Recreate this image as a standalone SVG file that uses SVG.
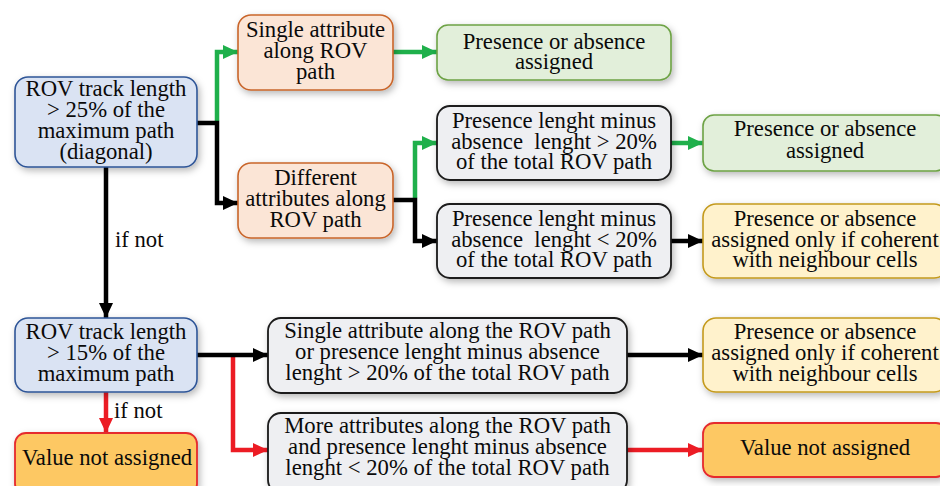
<svg xmlns="http://www.w3.org/2000/svg" width="940" height="486" viewBox="0 0 940 486">
<style>
text{font-family:'Liberation Serif',serif;font-size:22.7px;fill:#0a0a0a;text-anchor:middle}
.lbl{text-anchor:start}
.box{stroke-width:1.6}
.blue{fill:#dae3f3;stroke:#2f5597}
.orange{fill:#fbe5d6;stroke:#c9652a}
.green{fill:#e2efda;stroke:#6da244}
.gray{fill:#eeeff2;stroke:#1a1a1a;stroke-width:1.8}
.yellow{fill:#fff2cc;stroke:#c49a1e}
.gold{fill:#fdc863;stroke:#e52a2e;stroke-width:1.8}
.c{fill:none;stroke-width:4.5;stroke-linejoin:miter;stroke-linecap:butt}
.k{stroke:#000}
.g{stroke:#1fb04b}
.r{stroke:#ec1c24}
</style>
<defs>
<filter id="sh" x="-10%" y="-20%" width="125%" height="150%">
<feDropShadow dx="2" dy="3" stdDeviation="3.5" flood-color="#000" flood-opacity="0.28"/>
</filter>
<marker id="ak" markerUnits="userSpaceOnUse" markerWidth="16" markerHeight="16" refX="15" refY="8" orient="auto"><path d="M0,1 L15,8 L0,15 z" fill="#000"/></marker>
<marker id="ag" markerUnits="userSpaceOnUse" markerWidth="16" markerHeight="16" refX="15" refY="8" orient="auto"><path d="M0,1 L15,8 L0,15 z" fill="#1fb04b"/></marker>
<marker id="ar" markerUnits="userSpaceOnUse" markerWidth="16" markerHeight="16" refX="15" refY="8" orient="auto"><path d="M0,1 L15,8 L0,15 z" fill="#ec1c24"/></marker>
</defs>
<g font-family="Liberation Serif, serif">
<g id="connectors">
<path class="c g" d="M217,121 V52 H238" marker-end="url(#ag)"/>
<path class="c k" d="M197,123 H217 V203 H238" marker-end="url(#ak)"/>
<path class="c g" d="M393,52 H437" marker-end="url(#ag)"/>
<path class="c g" d="M415,198 V143 H437" marker-end="url(#ag)"/>
<path class="c k" d="M393,200 H415 V241 H437" marker-end="url(#ak)"/>
<path class="c g" d="M671,143 H703" marker-end="url(#ag)"/>
<path class="c k" d="M671,241 H703" marker-end="url(#ak)"/>
<path class="c k" d="M106,167 V318" marker-end="url(#ak)"/>
<path class="c r" d="M233,355 V450 H268" marker-end="url(#ar)"/>
<path class="c k" d="M197,355 H268" marker-end="url(#ak)"/>
<path class="c r" d="M106,392 V433" marker-end="url(#ar)"/>
<path class="c k" d="M627,355 H703" marker-end="url(#ak)"/>
<path class="c r" d="M627,450 H703" marker-end="url(#ar)"/>
<text class="lbl" x="115" y="247">if not</text>
<text class="lbl" x="114" y="418">if not</text>
</g>

<g id="n-track25">
<rect class="box blue" x="15" y="77" width="182" height="90" rx="13" filter="url(#sh)"/>
<text x="106" y="96">ROV track length</text>
<text x="106" y="117">&gt; 25% of the</text>
<text x="106" y="138">maximum path</text>
<text x="106" y="159">(diagonal)</text>
</g>

<g id="n-single">
<rect class="box orange" x="238" y="15" width="155" height="75" rx="13" filter="url(#sh)"/>
<text x="315.5" y="37">Single attribute</text>
<text x="315.5" y="58">along ROV</text>
<text x="315.5" y="79">path</text>
</g>

<g id="n-assigned1">
<rect class="box green" x="437" y="25" width="234" height="55" rx="11" filter="url(#sh)"/>
<text x="554" y="48.5">Presence or absence</text>
<text x="554" y="69">assigned</text>
</g>

<g id="n-different">
<rect class="box orange" x="238" y="163" width="155" height="75" rx="13" filter="url(#sh)"/>
<text x="315.5" y="185">Different</text>
<text x="315.5" y="206">attributes along</text>
<text x="315.5" y="227">ROV path</text>
</g>

<g id="n-gt20">
<rect class="box gray" x="437" y="106" width="234" height="74" rx="13" filter="url(#sh)"/>
<text x="554" y="128">Presence lenght minus</text>
<text x="554" y="148.5" xml:space="preserve">absence  lenght &gt; 20%</text>
<text x="554" y="169">of the total ROV path</text>
</g>

<g id="n-lt20">
<rect class="box gray" x="437" y="204" width="234" height="74" rx="13" filter="url(#sh)"/>
<text x="554" y="226">Presence lenght minus</text>
<text x="554" y="246.5" xml:space="preserve">absence  lenght &lt; 20%</text>
<text x="554" y="267">of the total ROV path</text>
</g>

<g id="n-assigned2">
<rect class="box green" x="703" y="115" width="244" height="56" rx="11" filter="url(#sh)"/>
<text x="825" y="136">Presence or absence</text>
<text x="825" y="158">assigned</text>
</g>

<g id="n-coherent1">
<rect class="box yellow" x="703" y="204" width="244" height="74" rx="13" filter="url(#sh)"/>
<text x="825" y="226">Presence or absence</text>
<text x="825" y="247">assigned only if coherent</text>
<text x="825" y="267">with neighbour cells</text>
</g>

<g id="n-track15">
<rect class="box blue" x="15" y="318" width="182" height="74" rx="13" filter="url(#sh)"/>
<text x="106" y="339">ROV track length</text>
<text x="106" y="360">&gt; 15% of the</text>
<text x="106" y="381">maximum path</text>
</g>

<g id="n-notassigned1">
<rect class="box gold" x="15" y="433" width="182" height="62" rx="11" filter="url(#sh)"/>
<text x="107" y="465">Value not assigned</text>
</g>

<g id="n-single2">
<rect class="box gray" x="268" y="318" width="359" height="75" rx="13" filter="url(#sh)"/>
<text x="447.5" y="338">Single attribute along the ROV path</text>
<text x="447.5" y="359">or presence lenght minus absence</text>
<text x="447.5" y="380">lenght &gt; 20% of the total ROV path</text>
</g>

<g id="n-more">
<rect class="box gray" x="268" y="413" width="359" height="80" rx="13" filter="url(#sh)"/>
<text x="447.5" y="433">More attributes along the ROV path</text>
<text x="447.5" y="454">and presence lenght minus absence</text>
<text x="447.5" y="475">lenght &lt; 20% of the total ROV path</text>
</g>

<g id="n-coherent2">
<rect class="box yellow" x="703" y="318" width="244" height="74" rx="13" filter="url(#sh)"/>
<text x="825" y="339">Presence or absence</text>
<text x="825" y="360">assigned only if coherent</text>
<text x="825" y="381">with neighbour cells</text>
</g>

<g id="n-notassigned2">
<rect class="box gold" x="703" y="423" width="244" height="54" rx="11" filter="url(#sh)"/>
<text x="825" y="455">Value not assigned</text>
</g>
</g>
</svg>
